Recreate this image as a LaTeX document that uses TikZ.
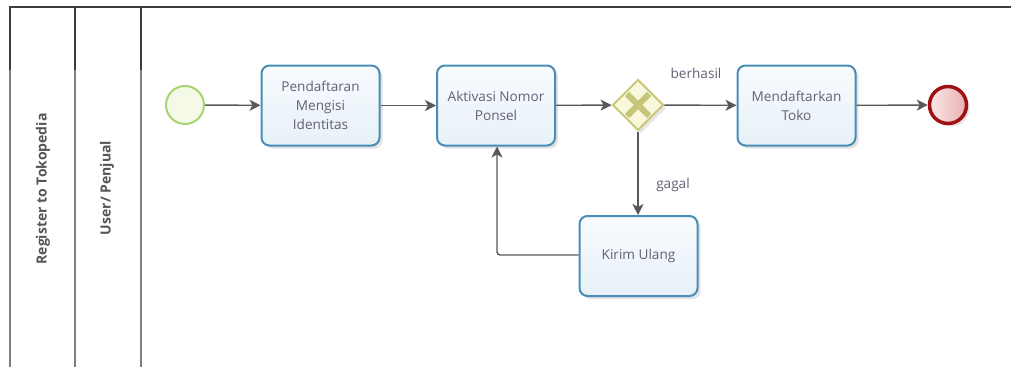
\documentclass[tikz,border=0pt]{standalone}
\usepackage{fontspec}
\setmainfont{Open Sans}
\usetikzlibrary{arrows.meta,shadows,shapes.geometric,calc}

\definecolor{poolline}{HTML}{3C3C3C}
\definecolor{poollinelight}{HTML}{7E7E7E}
\definecolor{lanetext}{HTML}{555555}
\definecolor{taskline}{HTML}{4A8DB5}
\definecolor{tasktop}{HTML}{F8FBFE}
\definecolor{taskbottom}{HTML}{E6F1F7}
\definecolor{tasktext}{HTML}{665E75}
\definecolor{flowline}{HTML}{585858}
\definecolor{startline}{HTML}{A8D36E}
\definecolor{startfill}{HTML}{F5FAE8}
\definecolor{endline}{HTML}{A01212}
\definecolor{endfill}{HTML}{FBE8E8}
\definecolor{endfillb}{HTML}{E8B0B0}
\definecolor{gateline}{HTML}{C9C97E}
\definecolor{gatefill}{HTML}{F8F8DC}
\definecolor{gatecross}{HTML}{C6C67A}

\tikzset{
  task/.style={draw=taskline, line width=2pt, rounded corners=8pt,
    top color=tasktop, bottom color=taskbottom,
    minimum width=118pt, minimum height=80pt, align=center,
    text=tasktext, font=\fontsize{13.6}{19}\selectfont,
    drop shadow={opacity=0.22, shadow xshift=3pt, shadow yshift=-3pt}},
  startev/.style={circle, draw=startline, line width=2pt, fill=startfill,
    minimum size=38pt, inner sep=0pt},
  endev/.style={circle, draw=endline, line width=3.5pt,
    left color=endfill, right color=endfillb,
    minimum size=37pt, inner sep=0pt,
    drop shadow={opacity=0.22, shadow xshift=3pt, shadow yshift=-3pt}},
  gateway/.style={diamond, draw=gateline, line width=2pt, fill=gatefill,
    minimum width=51pt, minimum height=51pt, inner sep=0pt,
    drop shadow={opacity=0.18, shadow xshift=3pt, shadow yshift=-3pt}},
  flow/.style={draw=flowline, line width=1.4pt,
    -{Stealth[length=11pt, width=11pt, inset=3pt]}},
  flowlabel/.style={text=tasktext, font=\fontsize{13.6}{16}\selectfont},
  lanelabel/.style={rotate=90, text=lanetext,
    font=\fontsize{14}{16}\selectfont\bfseries},
  pool/.style={line width=2pt}
}

\begin{document}
\begin{tikzpicture}[x=1pt, y=-1pt]
\useasboundingbox (0,0) rectangle (1011,367);

% pool and lane borders
\draw[pool, poolline] (9,7) -- (1011,7);
\foreach \xx in {9.5,75,141} {
  \draw[pool, poolline] (\xx,7) -- (\xx,70);
  \draw[pool, poollinelight] (\xx,70) -- (\xx,367);
}
\node[lanelabel] (pooltitle) at (43,189) {Register to Tokopedia};
\node[lanelabel] (lanetitle) at (107,188) {User/ Penjual};

% events, tasks and gateway
\node[startev] (start) at (185,105) {};
\node[task] (daftar) at (320.5,105.5) {Pendaftaran\\Mengisi\\Identitas};
\node[task] (aktivasi) at (496,105.5) {Aktivasi Nomor\\Ponsel};
\node[gateway] (gw) at (638,105) {};
\draw[gatecross, line width=6pt] ($(gw.center)+(-11,-11)$) -- ($(gw.center)+(11,11)$)
  ($(gw.center)+(-11,11)$) -- ($(gw.center)+(11,-11)$);
\node[task] (toko) at (796.5,105.5) {Mendaftarkan\\Toko};
\node[endev] (end) at (948,105) {};
\node[task] (kirim) at (638.5,256) {Kirim Ulang};

% sequence flows
\draw[flow] (start) -- (daftar);
\draw[flow] (daftar) -- (aktivasi);
\draw[flow] (aktivasi) -- (gw);
\draw[flow] (gw) -- (toko);
\node[flowlabel] (lblok) at (696,73) {berhasil};
\draw[flow] (toko) -- (end);
\draw[flow] (gw.south) -- (gw.south |- kirim.north);
\node[flowlabel] (lblfail) at (673,185) {gagal};
\coordinate (back) at (497,255);
\draw[flow, rounded corners=3pt] (kirim.west |- back) -- (back) -- (back |- aktivasi.south);
\end{tikzpicture}
\end{document}
